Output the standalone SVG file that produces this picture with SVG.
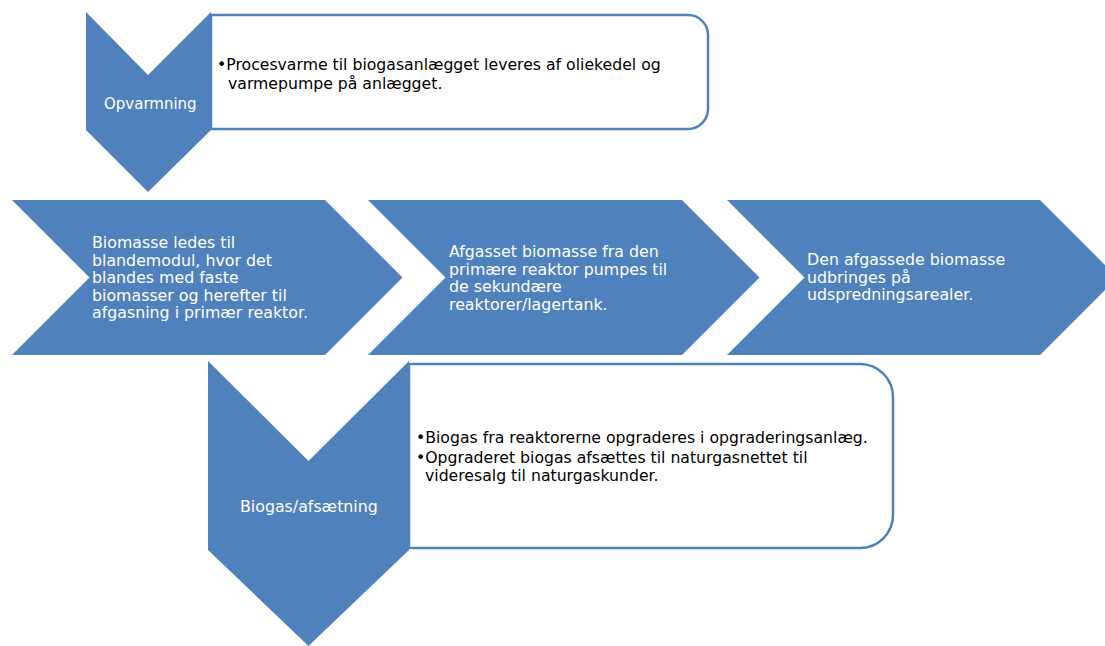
<svg xmlns="http://www.w3.org/2000/svg" width="1105" height="646" viewBox="0 0 1105 646">
<style>
.shape{fill:#4f81bd;}
.box{fill:#ffffff;stroke:#4f81bd;stroke-width:2.5;}
.wt{fill:#ffffff;font-family:"DejaVu Sans",Verdana,sans-serif;font-size:15.8px;}
.bt{fill:#000000;font-family:"DejaVu Sans",Verdana,sans-serif;font-size:15.7px;}
</style>
<rect width="1105" height="646" fill="#ffffff"/>
<g id="opvarmning">
<path class="box" d="M211,15 H688 A20,20 0 0 1 708,35 V109 A20,20 0 0 1 688,129 H211 Z"/>
<path class="shape" d="M86,12 L148,75 L211,12 V130 L148,192 L86,130 Z"/>
<text class="wt" x="104" y="109" style="font-size:15px">Opvarmning</text>
<text class="bt" x="217" y="70">•Procesvarme til biogasanlægget leveres af oliekedel og</text>
<text class="bt" x="228" y="89">varmepumpe på anlægget.</text>
</g>
<g id="step1">
<path class="shape" d="M12,200 H325 L402.5,277.5 L325,355 H12 L89.5,277.5 Z"/>
<text class="wt" x="92" y="248">Biomasse ledes til</text>
<text class="wt" x="92" y="265.5">blandemodul, hvor det</text>
<text class="wt" x="92" y="283">blandes med faste</text>
<text class="wt" x="92" y="300.5">biomasser og herefter til</text>
<text class="wt" x="92" y="318">afgasning i primær reaktor.</text>
</g>
<g id="step2">
<path class="shape" d="M368,200 H682 L759.5,277.5 L682,355 H368 L445.5,277.5 Z"/>
<text class="wt" x="449" y="257">Afgasset biomasse fra den</text>
<text class="wt" x="449" y="274.5">primære reaktor pumpes til</text>
<text class="wt" x="449" y="292">de sekundære</text>
<text class="wt" x="449" y="309.5">reaktorer/lagertank.</text>
</g>
<g id="step3">
<path class="shape" d="M727,200 H1040 L1117.5,277.5 L1040,355 H727 L804.5,277.5 Z"/>
<text class="wt" x="807" y="265">Den afgassede biomasse</text>
<text class="wt" x="807" y="282.5">udbringes på</text>
<text class="wt" x="807" y="300">udspredningsarealer.</text>
</g>
<g id="biogas">
<path class="box" d="M409,364 H860 A33,33 0 0 1 893,397 V515 A33,33 0 0 1 860,548 H409 Z"/>
<path class="shape" d="M208,361 L308.5,461 L409,361 V550 L308.5,646 L208,550 Z"/>
<text class="wt" x="240" y="512">Biogas/afsætning</text>
<text class="bt" x="416" y="443">•Biogas fra reaktorerne opgraderes i opgraderingsanlæg.</text>
<text class="bt" x="416" y="463">•Opgraderet biogas afsættes til naturgasnettet til</text>
<text class="bt" x="425" y="481">videresalg til naturgaskunder.</text>
</g>
<g id="connectors"></g>
</svg>
